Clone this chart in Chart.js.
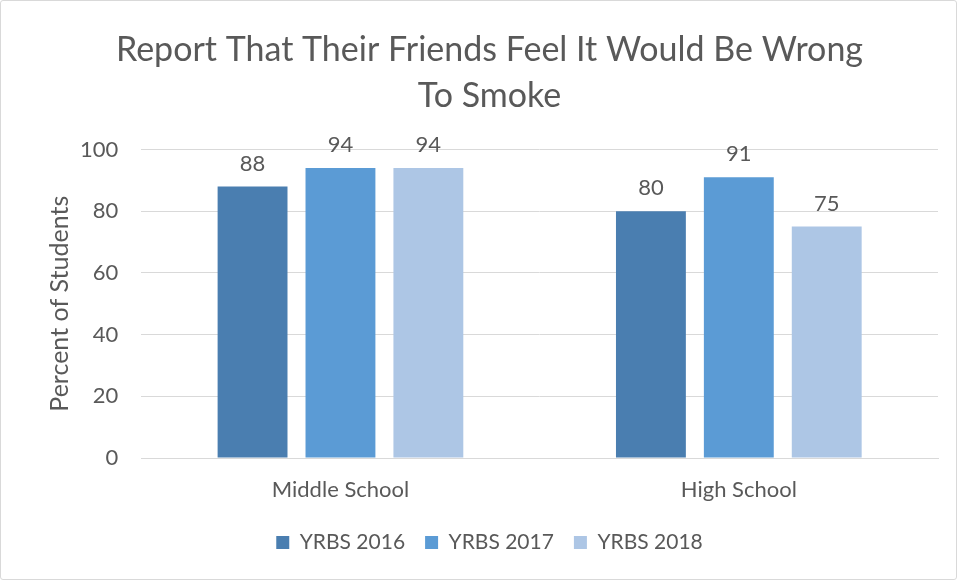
<!DOCTYPE html>
<html>
<head>
<meta charset="utf-8">
<script src="https://cdn.jsdelivr.net/npm/chart.js@4/dist/chart.umd.min.js"></script>
<style>
  html, body { margin: 0; padding: 0; background: #fff; }
  #wrap {
    position: relative;
    width: 955px;
    height: 578px;
    border: 1px solid #d9d9d9;
    border-radius: 3px;
  }
</style>
</head>
<body>
<div id="wrap"><canvas id="chart"></canvas></div>
<script>
  const categories = ['Middle School', 'High School'];
  const seriesNames = ['YRBS 2016', 'YRBS 2017', 'YRBS 2018'];
  const yrbs2016 = [88, 80];
  const yrbs2017 = [94, 91];
  const yrbs2018 = [94, 75];
  const yTicks = [0, 20, 40, 60, 80, 100];

  const TEXT = '#595959';
  const FONT = 'Lato, "Open Sans", sans-serif';
  const COLORS = ['#4a7eb0', '#5b9bd5', '#adc6e5'];

  // simple value labels above each bar
  const barLabels = {
    id: 'barLabels',
    afterDatasetsDraw(chart) {
      const ctx = chart.ctx;
      ctx.save();
      ctx.fillStyle = TEXT;
      ctx.font = '22px ' + FONT;
      ctx.textAlign = 'center';
      ctx.textBaseline = 'bottom';
      chart.data.datasets.forEach((ds, i) => {
        chart.getDatasetMeta(i).data.forEach((bar, j) => {
          ctx.fillText(ds.data[j], bar.x, bar.y - 12);
        });
      });
      ctx.restore();
    },
  };

  new Chart(document.getElementById('chart'), {
    type: 'bar',
    data: {
      labels: categories,
      datasets: [yrbs2016, yrbs2017, yrbs2018].map((data, i) => ({
        label: seriesNames[i],
        data,
        backgroundColor: COLORS[i],
        barPercentage: 0.795,
        categoryPercentage: 0.662,
      })),
    },
    options: {
      responsive: true,
      maintainAspectRatio: false,
      animation: false,
      layout: { padding: { left: 40, right: 18, top: 4, bottom: 16 } },
      plugins: {
        title: {
          display: true,
          text: ['Report That Their Friends Feel It Would Be Wrong', 'To Smoke'],
          color: TEXT,
          font: { family: FONT, size: 34, weight: 'normal', lineHeight: 1.36 },
          padding: { top: 22, bottom: 30 },
        },
        legend: {
          position: 'bottom',
          labels: {
            color: TEXT,
            font: { family: FONT, size: 21 },
            boxWidth: 13,
            boxHeight: 13,
            padding: 20,
          },
        },
        tooltip: { enabled: false },
      },
      scales: {
        x: {
          afterFit(axis) { axis.height = 54; },
          ticks: { color: TEXT, font: { family: FONT, size: 22 }, padding: 11 },
          grid: { display: false },
          border: { color: '#d9d9d9' },
        },
        y: {
          min: 0,
          max: 100,
          afterBuildTicks(axis) { axis.ticks = yTicks.map((v) => ({ value: v })); },
          ticks: { color: TEXT, font: { family: FONT, size: 22 }, padding: 23 },
          grid: { color: '#d9d9d9', drawTicks: false },
          border: { display: false },
          title: {
            display: true,
            text: 'Percent of Students',
            color: TEXT,
            font: { family: FONT, size: 25 },
            padding: { top: 4, bottom: -18 },
          },
        },
      },
    },
    plugins: [barLabels],
  });
</script>
</body>
</html>
